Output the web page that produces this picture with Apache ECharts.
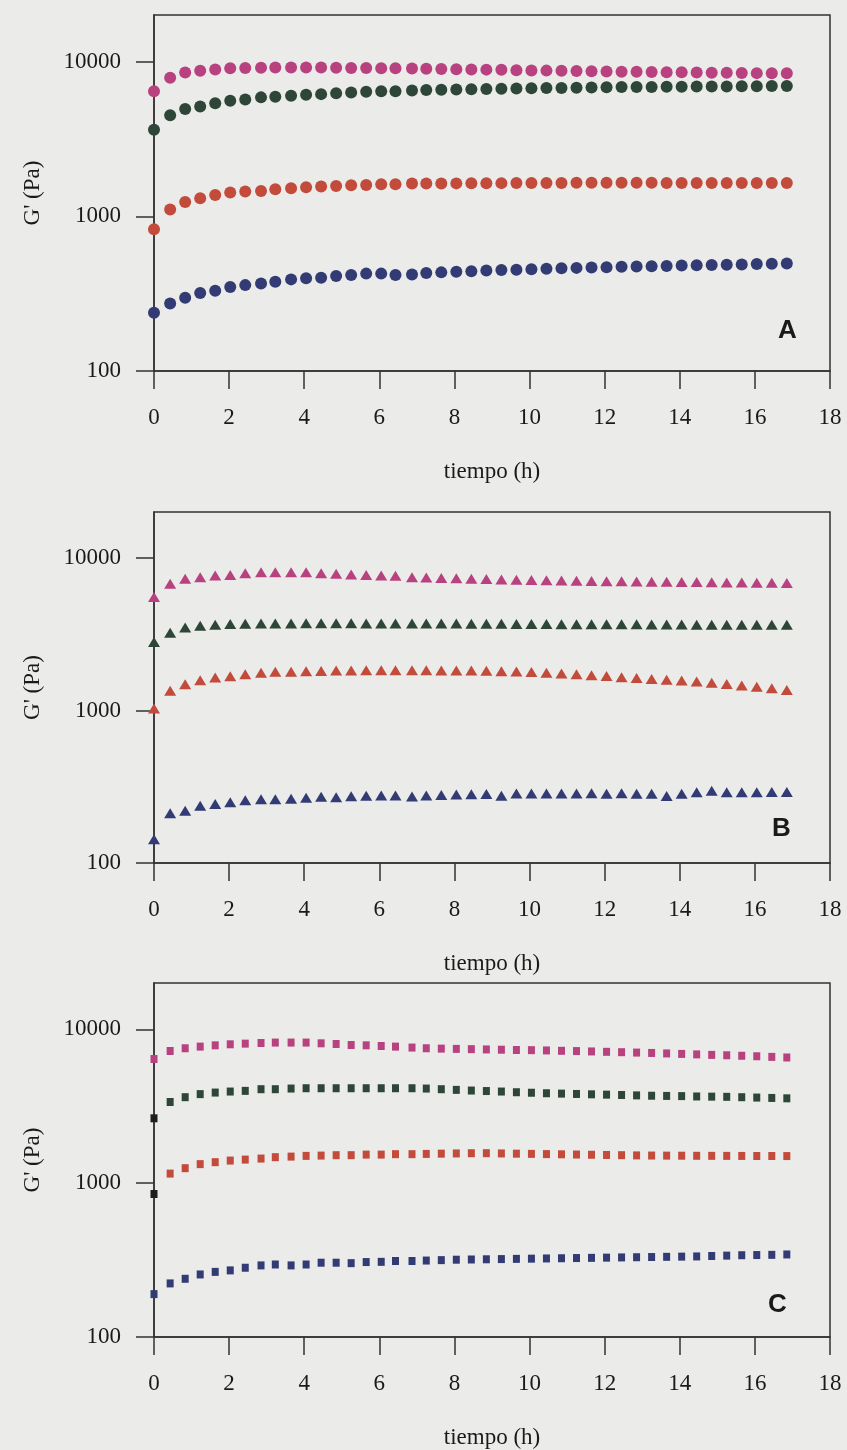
<!DOCTYPE html>
<html>
<head>
<meta charset="utf-8">
<style>
    html, body { margin: 0; padding: 0; background: #ebebe9; }
    #chart { width: 847px; height: 1450px; }
</style>
</head>
<body>
<div id="chart"></div>
<script src="https://cdn.jsdelivr.net/npm/echarts@6.0.0/dist/echarts.min.js"></script>
<script>
    // tiempo (h) - same sampling for the three panels
    var times = [0, 0.43, 0.83, 1.23, 1.63, 2.03, 2.43, 2.85, 3.23, 3.65, 4.05, 4.45, 4.85, 5.25, 5.65, 6.05, 6.43, 6.87, 7.25,
        7.65, 8.05, 8.45, 8.85, 9.25, 9.65, 10.05, 10.45, 10.85, 11.25, 11.65, 12.05,
        12.45, 12.85, 13.25, 13.65, 14.05, 14.45, 14.85, 15.25, 15.65, 16.05, 16.45, 16.85];

    var xTicks = [0, 2, 4, 6, 8, 10, 12, 14, 16, 18];
    var yTicks = [100, 1000, 10000];

    // panel A (circulos)
    var magA = [6440, 7850, 8510, 8720, 8900, 9040, 9080, 9120, 9170, 9170, 9170, 9150, 9120, 9100, 9080, 9060, 9040, 9020, 9000,
        8960, 8930, 8900, 8870, 8840, 8800, 8770, 8740, 8710, 8680, 8650, 8620,
        8600, 8580, 8560, 8540, 8520, 8500, 8480, 8460, 8440, 8420, 8410, 8400];
    var greenA = [3620, 4500, 4930, 5130, 5370, 5580, 5690, 5870, 5920, 6010, 6100, 6160, 6250, 6320, 6380, 6440, 6440, 6510, 6540,
        6570, 6600, 6630, 6660, 6680, 6700, 6720, 6740, 6760, 6780, 6800, 6820,
        6840, 6850, 6860, 6870, 6880, 6890, 6900, 6910, 6920, 6930, 6940, 6950];
    var redA = [824, 1105, 1238, 1308, 1374, 1424, 1445, 1458, 1496, 1518, 1540, 1557, 1571, 1587, 1595, 1611, 1611, 1628, 1628,
        1630, 1632, 1634, 1636, 1638, 1640, 1640, 1642, 1644, 1645, 1646, 1646,
        1646, 1645, 1645, 1644, 1643, 1642, 1641, 1640, 1640, 1640, 1640, 1640];
    var blueA = [238, 273, 298, 319, 330, 349, 359, 368, 378, 391, 397, 401, 411, 417, 426, 426, 417, 421, 430,
        434, 438, 442, 446, 449, 452, 455, 458, 461, 464, 466, 469,
        472, 474, 476, 478, 480, 482, 484, 486, 488, 491, 493, 496];

    // panel B (triangulos)
    var magB = [5540, 6760, 7290, 7480, 7660, 7740, 7940, 8060, 8060, 8060, 8060, 7940, 7860, 7780, 7740, 7660, 7630, 7480, 7430,
        7390, 7350, 7310, 7270, 7230, 7190, 7160, 7130, 7100, 7080, 7060, 7040,
        7020, 7000, 6990, 6970, 6950, 6940, 6920, 6910, 6900, 6880, 6870, 6860];
    var greenB = [2810, 3235, 3500, 3590, 3650, 3690, 3700, 3720, 3720, 3720, 3730, 3730, 3730, 3730, 3720, 3720, 3720, 3720, 3720,
        3710, 3710, 3700, 3700, 3700, 3690, 3690, 3690, 3680, 3680, 3680, 3670,
        3670, 3670, 3660, 3660, 3660, 3650, 3650, 3650, 3650, 3650, 3650, 3650];
    var redB = [1031, 1345, 1486, 1578, 1643, 1675, 1727, 1764, 1791, 1791, 1807, 1817, 1825, 1825, 1834, 1834, 1834, 1834, 1834,
        1830, 1830, 1825, 1820, 1810, 1800, 1790, 1770, 1750, 1730, 1700, 1680,
        1650, 1630, 1610, 1590, 1570, 1550, 1520, 1490, 1460, 1430, 1400, 1360];
    var blueB = [143, 212, 220, 237, 244, 250, 258, 262, 262, 264, 268, 272, 270, 274, 276, 277, 277, 273, 277,
        279, 281, 282, 283, 276, 285, 285, 285, 286, 286, 287, 284,
        287, 284, 284, 275, 284, 291, 298, 291, 291, 291, 292, 292];

    // panel C (cuadrados)
    var magC = [6410, 7230, 7530, 7720, 7870, 7990, 8070, 8150, 8200, 8200, 8200, 8110, 8030, 7910, 7870, 7790, 7720, 7610, 7530,
        7490, 7460, 7430, 7400, 7370, 7340, 7320, 7290, 7250, 7220, 7180, 7140,
        7100, 7060, 7020, 6970, 6920, 6870, 6820, 6780, 6730, 6680, 6620, 6560];
    var greenC = [2640, 3370, 3620, 3790, 3880, 3940, 3980, 4080, 4080, 4120, 4140, 4140, 4140, 4140, 4140, 4140, 4140, 4140, 4120,
        4080, 4040, 4000, 3970, 3940, 3900, 3870, 3840, 3820, 3800, 3780, 3760,
        3740, 3720, 3700, 3690, 3680, 3660, 3650, 3640, 3620, 3600, 3580, 3560];
    var redC = [850, 1154, 1251, 1329, 1369, 1402, 1423, 1445, 1475, 1488, 1504, 1511, 1520, 1520, 1533, 1533, 1543, 1543, 1549,
        1555, 1560, 1565, 1566, 1560, 1555, 1550, 1545, 1540, 1535, 1530, 1525,
        1520, 1515, 1512, 1510, 1508, 1506, 1505, 1504, 1503, 1502, 1501, 1500];
    var blueC = [190, 223, 239, 255, 265, 271, 282, 292, 296, 292, 296, 304, 304, 302, 307, 308, 312, 312, 314,
        316, 318, 319, 320, 321, 322, 323, 324, 325, 326, 327, 328,
        329, 330, 331, 332, 333, 334, 336, 338, 340, 341, 342, 344];

    var colMag = '#b8427f';
    var colGreen = '#2e4637';
    var colRed = '#c24b3c';
    var colBlue = '#323b73';
    var lineCol = '#333333';
    var textCol = '#1a1a1a';
    var serif = "'Liberation Serif', 'DejaVu Serif', serif";

    var panels = [
        { top: 15, height: 356, letter: 'A', lx: 773, ly: 313, symbol: 'circle', size: 12,
          series: [magA, greenA, redA, blueA] },
        { top: 512, height: 351, letter: 'B', lx: 767, ly: 811, symbol: 'triangle', size: [12, 10],
          series: [magB, greenB, redB, blueB] },
        { top: 983, height: 356, letter: 'C', lx: 763, ly: 1287, symbol: 'rect', size: [7, 8],
          series: [magC, greenC, redC, blueC] }
    ];
    var colors = [colMag, colGreen, colRed, colBlue];

    function pairs(values, darkFirst) {
        return values.map(function (v, i) {
            if (darkFirst && i === 0) {
                return { value: [times[i], v], itemStyle: { color: '#1e1e1e' } };
            }
            return [times[i], v];
        });
    }

    var option = {
        backgroundColor: '#ebebe9',
        animation: false,
        title: [],
        grid: [],
        xAxis: [],
        yAxis: [],
        series: []
    };

    panels.forEach(function (p, k) {
        option.grid.push({
            left: 154, width: 676, top: p.top, height: p.height,
            show: true, borderColor: lineCol, borderWidth: 1.5, backgroundColor: 'transparent'
        });
        option.title.push({
            text: p.letter, left: p.lx, top: p.ly,
            textStyle: { fontFamily: "'Liberation Sans', Arial, sans-serif", fontWeight: 'bold', fontSize: 26, color: textCol }
        });
        option.xAxis.push({
            type: 'value', gridIndex: k, min: xTicks[0], max: xTicks[xTicks.length - 1], interval: 2,
            name: 'tiempo (h)', nameLocation: 'middle', nameGap: 89,
            nameTextStyle: { fontFamily: serif, fontSize: 23, color: textCol },
            axisLine: { show: true, onZero: false, lineStyle: { color: lineCol, width: 1.5 } },
            axisTick: { show: true, inside: false, length: 18, lineStyle: { color: lineCol, width: 1.5 } },
            axisLabel: { margin: 35, fontFamily: serif, fontSize: 23, color: textCol },
            splitLine: { show: false }
        });
        option.yAxis.push({
            type: 'log', logBase: 10, gridIndex: k, min: yTicks[0], max: 20000,
            name: "G' (Pa)", nameLocation: 'middle', nameGap: 110, nameRotate: 90,
            nameTextStyle: { fontFamily: serif, fontSize: 23, color: textCol },
            axisLine: { show: true, onZero: false, lineStyle: { color: lineCol, width: 1.5 } },
            axisTick: { show: true, inside: false, length: 18, customValues: yTicks,
                lineStyle: { color: lineCol, width: 1.5 } },
            axisLabel: {
                margin: 33, fontFamily: serif, fontSize: 23, color: textCol, customValues: yTicks,
                formatter: function (v) {
                    return yTicks.indexOf(Math.round(v)) >= 0 ? String(Math.round(v)) : '';
                }
            },
            minorTick: { show: false },
            splitLine: { show: false }
        });
        p.series.forEach(function (vals, j) {
            option.series.push({
                type: 'scatter', xAxisIndex: k, yAxisIndex: k,
                symbol: p.symbol, symbolSize: p.size,
                itemStyle: { color: colors[j], opacity: 1 },
                data: pairs(vals, k === 2 && (j === 1 || j === 2))
            });
        });
    });

    var chart = echarts.init(document.getElementById('chart'), null, { renderer: 'canvas' });
    chart.setOption(option);
</script>
</body>
</html>
